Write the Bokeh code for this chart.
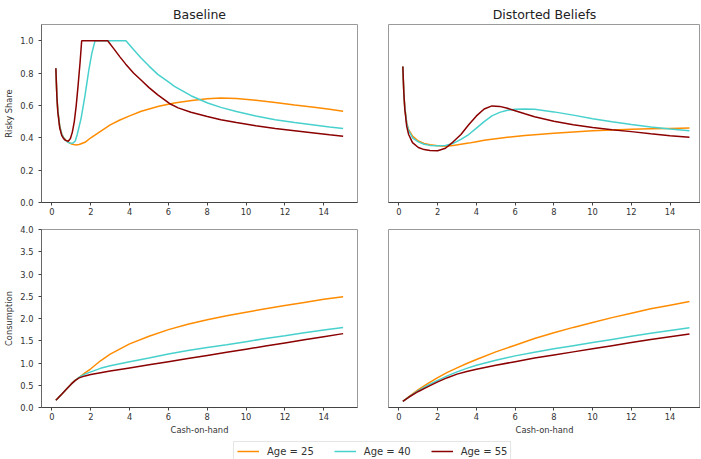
from bokeh.plotting import figure
from bokeh.layouts import column, row
from bokeh.models import Range1d, FixedTicker, PrintfTickFormatter, Legend, LegendItem
from bokeh.embed import file_html
from bokeh.resources import INLINE

FONT = "DejaVu Sans"
labels = ["Age = 25", "Age = 40", "Age = 55"]
colors = ["darkorange", "mediumturquoise", "darkred"]
titles = ["Baseline", "Distorted Beliefs"]
x_ticks = [0, 2, 4, 6, 8, 10, 12, 14]
share_ticks = [0.0, 0.2, 0.4, 0.6, 0.8, 1.0]
cons_ticks = [0.0, 0.5, 1.0, 1.5, 2.0, 2.5, 3.0, 3.5, 4.0]

# ---- Baseline: risky share ----
base_share_x25 = [0.2, 0.25, 0.3, 0.4, 0.5, 0.6, 0.8, 1.0, 1.2, 1.4, 1.7, 2.0, 2.5, 3.0, 3.5, 4.0,
                  4.6, 5.5, 6.3, 7.2, 8.0, 8.7, 9.5, 10.5, 11.5, 12.5, 13.5, 14.3, 15.0]
base_share_y25 = [0.83, 0.66, 0.57, 0.47, 0.425, 0.40, 0.375, 0.362, 0.356, 0.358, 0.372, 0.40, 0.44,
                  0.48, 0.51, 0.535, 0.564, 0.595, 0.615, 0.631, 0.641, 0.646, 0.643, 0.632, 0.618,
                  0.602, 0.588, 0.576, 0.564]
base_share_x40 = [0.2, 0.25, 0.3, 0.4, 0.5, 0.6, 0.7, 0.8, 0.9, 1.07, 1.2, 1.3, 1.5, 1.7, 1.9, 2.05,
                  2.22, 3.81, 4.2, 4.59, 5.0, 5.45, 6.0, 6.31, 7.16, 8.02, 8.7, 9.5, 10.5, 11.5, 12.5,
                  13.5, 14.3, 15.0]
base_share_y40 = [0.83, 0.66, 0.57, 0.47, 0.425, 0.40, 0.385, 0.374, 0.368, 0.366, 0.38, 0.42, 0.52,
                  0.66, 0.82, 0.92, 1.0, 1.0, 0.945, 0.893, 0.843, 0.792, 0.745, 0.718, 0.66, 0.615,
                  0.588, 0.562, 0.535, 0.512, 0.494, 0.479, 0.467, 0.457]
base_share_x55 = [0.2, 0.25, 0.3, 0.4, 0.5, 0.6, 0.7, 0.84, 0.95, 1.05, 1.15, 1.25, 1.35, 1.45, 1.53,
                  2.87, 3.2, 3.5, 3.8, 4.2, 4.6, 5.0, 5.45, 6.05, 6.5, 7.16, 8.0, 8.7, 9.5, 10.5,
                  11.5, 12.5, 13.5, 14.3, 15.0]
base_share_y55 = [0.83, 0.66, 0.56, 0.46, 0.415, 0.395, 0.384, 0.379, 0.395, 0.435, 0.50, 0.60, 0.73,
                  0.87, 1.0, 1.0, 0.948, 0.90, 0.855, 0.80, 0.755, 0.71, 0.665, 0.612, 0.585, 0.558,
                  0.531, 0.512, 0.494, 0.474, 0.457, 0.443, 0.429, 0.418, 0.41]

# ---- Distorted beliefs: risky share ----
dist_share_x = [0.2, 0.25, 0.3, 0.4, 0.5, 0.7, 1.0, 1.3, 1.6, 2.0, 2.4, 2.8, 3.2, 3.6, 4.0, 4.4, 4.8,
                5.2, 5.6, 6.0, 6.5, 7.0, 8.0, 9.0, 10.0, 11.0, 12.0, 13.0, 14.0, 15.0]
dist_share_y25 = [0.84, 0.68, 0.59, 0.49, 0.45, 0.41, 0.38, 0.365, 0.357, 0.35, 0.348, 0.352, 0.36,
                  0.367, 0.376, 0.384, 0.391, 0.397, 0.403, 0.408, 0.414, 0.419, 0.428, 0.436, 0.443,
                  0.448, 0.452, 0.455, 0.458, 0.46]
dist_share_y40 = [0.84, 0.68, 0.59, 0.49, 0.445, 0.40, 0.375, 0.36, 0.353, 0.35, 0.352, 0.365, 0.39,
                  0.42, 0.46, 0.50, 0.535, 0.557, 0.57, 0.576, 0.578, 0.576, 0.56, 0.54, 0.518,
                  0.499, 0.482, 0.467, 0.454, 0.444]
dist_share_y55 = [0.84, 0.68, 0.58, 0.47, 0.42, 0.37, 0.34, 0.327, 0.321, 0.32, 0.335, 0.375, 0.42,
                  0.48, 0.535, 0.578, 0.597, 0.594, 0.582, 0.567, 0.548, 0.53, 0.502, 0.48, 0.463,
                  0.45, 0.438, 0.425, 0.413, 0.403]

# ---- Baseline: consumption ----
base_cons_x = [0.2, 0.5, 0.8, 1.0, 1.2, 1.4, 1.7, 2.0, 2.5, 3.0, 4.0, 5.0, 6.0, 7.0, 8.0, 9.0, 10.0,
               11.0, 12.0, 13.0, 14.0, 15.0]
base_cons_y25 = [0.165, 0.30, 0.44, 0.53, 0.61, 0.68, 0.78, 0.87, 1.05, 1.20, 1.43, 1.60, 1.75, 1.87,
                 1.97, 2.06, 2.14, 2.22, 2.29, 2.36, 2.43, 2.49]
base_cons_y40 = [0.165, 0.30, 0.44, 0.53, 0.61, 0.68, 0.75, 0.80, 0.88, 0.94, 1.03, 1.11, 1.20, 1.28,
                 1.35, 1.41, 1.48, 1.55, 1.61, 1.68, 1.74, 1.80]
base_cons_y55 = [0.165, 0.30, 0.44, 0.53, 0.61, 0.665, 0.71, 0.74, 0.78, 0.82, 0.89, 0.96, 1.03, 1.10,
                 1.17, 1.24, 1.31, 1.38, 1.45, 1.52, 1.59, 1.66]

# ---- Distorted beliefs: consumption ----
dist_cons_x = [0.2, 0.5, 1.0, 1.5, 2.0, 2.5, 3.0, 3.5, 4.0, 5.0, 6.0, 7.0, 8.0, 9.0, 10.0, 11.0, 12.0,
               13.0, 14.0, 15.0]
dist_cons_y25 = [0.14, 0.24, 0.40, 0.54, 0.67, 0.79, 0.89, 0.99, 1.08, 1.25, 1.40, 1.55, 1.68, 1.80,
                 1.91, 2.02, 2.12, 2.22, 2.30, 2.38]
dist_cons_y40 = [0.14, 0.235, 0.38, 0.50, 0.61, 0.71, 0.80, 0.88, 0.95, 1.06, 1.16, 1.24, 1.32, 1.39,
                 1.46, 1.53, 1.60, 1.67, 1.73, 1.79]
dist_cons_y55 = [0.14, 0.23, 0.36, 0.47, 0.575, 0.67, 0.75, 0.81, 0.86, 0.95, 1.03, 1.11, 1.18, 1.25,
                 1.32, 1.39, 1.46, 1.53, 1.59, 1.65]

FRAME_H = 178


def make_fig(frame_w, xr, yr, left, right, top, bottom, title=None, show_y=True,
             yticks=None, ylabel=None, xlabel=None):
    p = figure(frame_width=frame_w, frame_height=FRAME_H, x_range=xr, y_range=yr,
               output_backend="svg", toolbar_location=None, title=title,
               min_border_left=left, min_border_right=right,
               min_border_top=top, min_border_bottom=bottom)
    p.background_fill_color = "white"
    p.border_fill_color = "white"
    p.outline_line_color = "#9a9a9a"
    p.outline_line_width = 1
    p.grid.visible = False
    if title is not None:
        p.title.text_font = FONT
        p.title.text_font_size = "12.5px"
        p.title.text_font_style = "normal"
        p.title.text_color = "#222222"
        p.title.align = "center"
        p.title.standoff = 5
        p.title.offset = 0
    xa = p.xaxis[0]
    xa.ticker = FixedTicker(ticks=x_ticks)
    xa.axis_line_color = "#444444"
    xa.major_tick_line_color = "#444444"
    xa.major_tick_out = 3
    xa.major_tick_in = 0
    xa.minor_tick_line_color = None
    xa.major_label_standoff = 2
    xa.major_label_text_font = FONT
    xa.major_label_text_font_size = "8.3px"
    xa.major_label_text_color = "#333333"
    if xlabel:
        xa.axis_label = xlabel
        xa.axis_label_text_font = FONT
        xa.axis_label_text_font_size = "8.3px"
        xa.axis_label_text_font_style = "normal"
        xa.axis_label_text_color = "#333333"
        xa.axis_label_standoff = 2
    ya = p.yaxis[0]
    if show_y:
        ya.ticker = FixedTicker(ticks=yticks)
        ya.formatter = PrintfTickFormatter(format="%.1f")
        ya.axis_line_color = "#666666"
        ya.major_tick_line_color = "#444444"
        ya.major_tick_out = 3
        ya.major_tick_in = 0
        ya.minor_tick_line_color = None
        ya.major_label_standoff = 5
        ya.major_label_text_font = FONT
        ya.major_label_text_font_size = "8.3px"
        ya.major_label_text_color = "#333333"
        if ylabel:
            ya.axis_label = ylabel
            ya.axis_label_text_font = FONT
            ya.axis_label_text_font_size = "8.3px"
            ya.axis_label_text_font_style = "normal"
            ya.axis_label_text_color = "#333333"
            ya.axis_label_standoff = 3
    else:
        ya.visible = False
    return p


def add_lines(p, xs, ys):
    rs = []
    for x, y, c in zip(xs, ys, colors):
        rs.append(p.line(x, y, line_color=c, line_width=1.5))
    return rs


tl = make_fig(316, Range1d(-0.54, 15.74), Range1d(0, 1.1), 41, 15, 24, 17, title=titles[0],
              yticks=share_ticks, ylabel="Risky Share")
tr = make_fig(312, Range1d(-0.54, 15.57), Range1d(0, 1.1), 16, 0, 24, 17, title=titles[1],
              show_y=False)
bl = make_fig(316, Range1d(-0.54, 15.74), Range1d(0, 4.0), 41, 15, 10, 27,
              yticks=cons_ticks, ylabel="Consumption", xlabel="Cash-on-hand")
br = make_fig(312, Range1d(-0.54, 15.57), Range1d(0, 4.0), 16, 0, 10, 27,
              show_y=False, xlabel="Cash-on-hand")

add_lines(tl, [base_share_x25, base_share_x40, base_share_x55],
          [base_share_y25, base_share_y40, base_share_y55])
add_lines(tr, [dist_share_x] * 3, [dist_share_y25, dist_share_y40, dist_share_y55])
add_lines(bl, [base_cons_x] * 3, [base_cons_y25, base_cons_y40, base_cons_y55])
add_lines(br, [dist_cons_x] * 3, [dist_cons_y25, dist_cons_y40, dist_cons_y55])

# legend strip (lines drawn out of view, used only for legend glyphs)
lg = figure(width=700, height=24, x_range=Range1d(100, 101), y_range=Range1d(0, 1),
            output_backend="svg", toolbar_location=None,
            min_border_left=0, min_border_right=0, min_border_top=0, min_border_bottom=0)
lg.axis.visible = False
lg.grid.visible = False
lg.outline_line_color = None
lg_rs = add_lines(lg, [base_cons_x] * 3, [base_cons_y25, base_cons_y40, base_cons_y55])
legend = Legend(items=[LegendItem(label=l, renderers=[r]) for l, r in zip(labels, lg_rs)],
                orientation="horizontal", location=(233, 0))
legend.label_text_font = FONT
legend.label_text_font_size = "10px"
legend.label_text_color = "#333333"
legend.glyph_width = 22
legend.glyph_height = 12
legend.label_height = 12
legend.label_standoff = 8
legend.spacing = 20
legend.padding = 3
legend.margin = 0
legend.border_line_color = "#cccccc"
legend.border_line_width = 1
legend.background_fill_alpha = 1
lg.add_layout(legend)

layout = column(row(tl, tr), row(bl, br), lg)

with open("out.html", "w") as f:
    f.write(file_html(layout, INLINE))
